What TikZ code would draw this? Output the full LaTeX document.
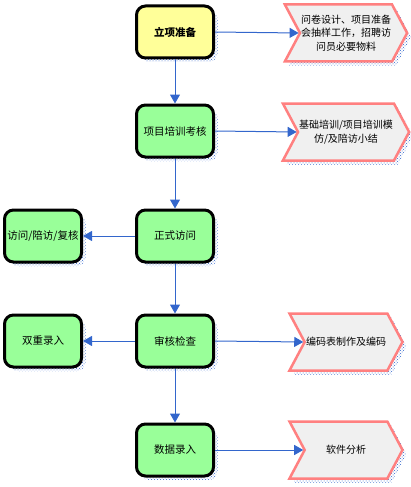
\documentclass[tikz,border=0pt]{standalone}
\usepackage{fontspec}
\setmainfont{Noto Sans CJK SC}
\usetikzlibrary{shapes.symbols,shadows,patterns,arrows.meta}
\definecolor{stageyellow}{HTML}{FFFF99}
\definecolor{stagegreen}{HTML}{99FF99}
\definecolor{notegray}{HTML}{F0F0F0}
\definecolor{notered}{HTML}{FF8080}
\definecolor{flowblue}{HTML}{3366CC}
\tikzset{
  dotshadow/.style={drop shadow={shadow xshift=4pt,shadow yshift=-4pt,opacity=1,pattern=crosshatch dots,pattern color=flowblue}},
  stage/.style={draw=black,line width=3pt,rounded corners=9pt,fill=stagegreen,
    minimum width=77pt,minimum height=52pt,inner sep=1pt,align=center,
    font=\fontsize{10.5}{12}\selectfont,dotshadow},
  note/.style={signal,signal from=west,signal to=east,signal pointer angle=124,
    draw=notered,line width=2.5pt,fill=notegray,minimum width=113pt,minimum height=57pt,
    inner sep=1pt,align=center,font=\fontsize{10}{13.5}\selectfont,dotshadow},
  flow/.style={draw=flowblue,line width=1pt,-{Triangle[width=10pt,length=9pt]}}
}
\begin{document}
\begin{tikzpicture}[x=1pt,y=-1pt]
  \useasboundingbox (0,0) rectangle (411,487);
  % main column
  \node[stage,fill=stageyellow,font=\fontsize{10.5}{12}\selectfont\bfseries] (prep) at (175,32) {立项准备};
  \node[stage] (train) at (175,131) {项目培训考核};
  \node[stage] (visit) at (175,236) {正式访问};
  \node[stage] (check) at (175,341) {审核检查};
  \node[stage] (entry) at (175,450) {数据录入};
  % left column
  \node[stage] (recheck) at (43,236) {访问/陪访/复核};
  \node[stage] (double) at (43,341) {双重录入};
  % right notes
  \node[note] (design) at (346,33) {问卷设计、项目准备\\会抽样工作，招聘访\\问员必要物料};
  \node[note] (course) at (346,132) {基础培训/项目培训模\\仿/及陪访小结};
  \node[note] (coding) at (346,342) {编码表制作及编码};
  \node[note] (soft) at (346,450) {软件分析};
  % connectors
  \foreach \a/\b in {prep/train,train/visit,visit/check,check/entry}
    \draw[flow] (\a.south) -- (\b.north);
  \foreach \a/\b in {visit/recheck,check/double}
    \draw[flow] (\a.west) -- (\b.east);
  \foreach \a/\b in {prep/design,train/course,check/coding,entry/soft}
    \draw[flow] (\a.east) -- (\b.west);
\end{tikzpicture}
\end{document}
